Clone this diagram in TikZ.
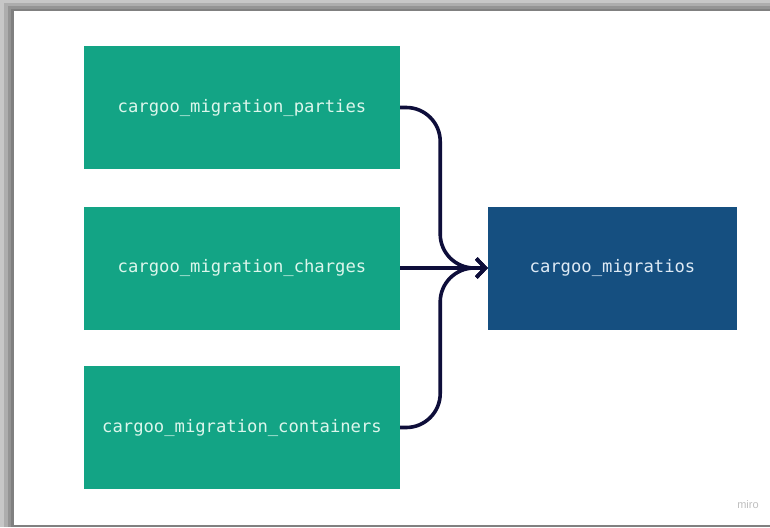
\documentclass[tikz,border=0pt]{standalone}
\usepackage{fontspec}
\newfontfamily\codefont{DejaVu Sans Mono}
\newfontfamily\markfont{Liberation Sans}
\usetikzlibrary{arrows.meta}
\definecolor{tablegreen}{RGB}{19,164,133}
\definecolor{tableblue}{RGB}{21,79,128}
\definecolor{greentext}{RGB}{220,246,236}
\definecolor{bluetext}{RGB}{222,234,245}
\definecolor{flowink}{RGB}{14,14,58}
\begin{document}
\begin{tikzpicture}[x=1pt,y=-1pt,
  table/.style={minimum width=316pt,minimum height=123pt,inner sep=0pt,
    font=\codefont\fontsize{17.2}{20}\selectfont,fill=tablegreen,text=greentext},
  target/.style={table,minimum width=249pt,fill=tableblue,text=bluetext},
  flow/.style={draw=flowink,line width=3.6pt,rounded corners=34pt,
    -{Straight Barb[length=9pt,width=19pt]}}]
\useasboundingbox (0,0) rectangle (770,527);
\fill[black!22] (0,0) rectangle (770,527);
\fill[black!32] (4,3) rectangle (770,527);
\fill[black!42] (8,6) rectangle (770,527);
\fill[black!50] (11,9) rectangle (770,527);
\fill[white] (14,11) rectangle (770,525);
\node[table] (parties) at (242,107.5) {cargoo\_migration\_parties};
\node[table] (charges) at (242,268) {cargoo\_migration\_charges};
\node[table] (containers) at (242,427.5) {cargoo\_migration\_containers};
\node[target] (migratios) at (612.5,268) {cargoo\_migratios};
\draw[flow] (parties.east) -- ++(40,0) |- (migratios.west);
\draw[flow] (containers.east) -- ++(40,0) |- (migratios.west);
\draw[flow] (charges.east) -- (migratios.west);
\node[font=\markfont\fontsize{11}{12}\selectfont,text=black!25] (watermark) at (748,505) {miro};
\end{tikzpicture}
\end{document}
